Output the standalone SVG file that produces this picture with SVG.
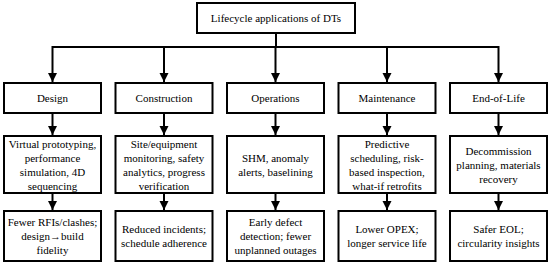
<svg xmlns="http://www.w3.org/2000/svg" width="550" height="263" viewBox="0 0 550 263">
<defs>
<style>
.box{fill:#fff;stroke:#000;stroke-width:2}
.t{font-family:'Liberation Serif','Times New Roman',serif;font-size:11px;fill:#000;text-anchor:middle}
.c{fill:none;stroke:#000;stroke-width:2}
</style>
<marker id="ah" markerUnits="userSpaceOnUse" markerWidth="10" markerHeight="10" viewBox="0 0 10 10" refX="9" refY="5" orient="auto">
<path d="M0,0.5 L9,5 L0,9.5 Z" fill="#000"/>
</marker>
</defs>
<rect width="550" height="263" fill="#fff"/>
<g id="connectors">
<path class="c" d="M276,33 V47"/>
<path class="c" d="M52.5,47 H498.5"/>
<path class="c" d="M52.5,46 V82" marker-end="url(#ah)"/>
<path class="c" d="M164,47 V82" marker-end="url(#ah)"/>
<path class="c" d="M275.5,47 V82" marker-end="url(#ah)"/>
<path class="c" d="M387,47 V82" marker-end="url(#ah)"/>
<path class="c" d="M498.5,46 V82" marker-end="url(#ah)"/>
<path class="c" d="M52.5,113 V135" marker-end="url(#ah)"/>
<path class="c" d="M164,113 V135" marker-end="url(#ah)"/>
<path class="c" d="M275.5,113 V135" marker-end="url(#ah)"/>
<path class="c" d="M387,113 V135" marker-end="url(#ah)"/>
<path class="c" d="M498.5,113 V135" marker-end="url(#ah)"/>
<path class="c" d="M52.5,193 V210" marker-end="url(#ah)"/>
<path class="c" d="M164,193 V210" marker-end="url(#ah)"/>
<path class="c" d="M275.5,193 V210" marker-end="url(#ah)"/>
<path class="c" d="M387,193 V210" marker-end="url(#ah)"/>
<path class="c" d="M498.5,193 V210" marker-end="url(#ah)"/>
</g>
<g id="root">
<rect class="box" x="197" y="3" width="158" height="30"/>
<text class="t" x="276" y="22">Lifecycle applications of DTs</text>
</g>
<g id="design">
<rect class="box" x="4" y="83" width="97" height="30"/>
<text class="t" x="52.5" y="102">Design</text>
</g>
<g id="construction">
<rect class="box" x="115.5" y="83" width="97" height="30"/>
<text class="t" x="164" y="102">Construction</text>
</g>
<g id="operations">
<rect class="box" x="227" y="83" width="97" height="30"/>
<text class="t" x="275.5" y="102">Operations</text>
</g>
<g id="maintenance">
<rect class="box" x="338.5" y="83" width="97" height="30"/>
<text class="t" x="387" y="102">Maintenance</text>
</g>
<g id="eol">
<rect class="box" x="450" y="83" width="97" height="30"/>
<text class="t" x="498.5" y="102">End-of-Life</text>
</g>
<g id="design-apps">
<rect class="box" x="4" y="136" width="97" height="57"/>
<text class="t" x="52.5" y="147.5">Virtual prototyping,</text>
<text class="t" x="52.5" y="161.5">performance</text>
<text class="t" x="52.5" y="175.5">simulation, 4D</text>
<text class="t" x="52.5" y="189.5">sequencing</text>
</g>
<g id="construction-apps">
<rect class="box" x="115.5" y="136" width="97" height="57"/>
<text class="t" x="164" y="147.5">Site/equipment</text>
<text class="t" x="164" y="161.5">monitoring, safety</text>
<text class="t" x="164" y="175.5">analytics, progress</text>
<text class="t" x="164" y="189.5">verification</text>
</g>
<g id="operations-apps">
<rect class="box" x="227" y="136" width="97" height="57"/>
<text class="t" x="275.5" y="161.5">SHM, anomaly</text>
<text class="t" x="275.5" y="175.5">alerts, baselining</text>
</g>
<g id="maintenance-apps">
<rect class="box" x="338.5" y="136" width="97" height="57"/>
<text class="t" x="387" y="147.5">Predictive</text>
<text class="t" x="387" y="161.5">scheduling, risk-</text>
<text class="t" x="387" y="175.5">based inspection,</text>
<text class="t" x="387" y="189.5">what-if retrofits</text>
</g>
<g id="eol-apps">
<rect class="box" x="450" y="136" width="97" height="57"/>
<text class="t" x="498.5" y="154.5">Decommission</text>
<text class="t" x="498.5" y="168.5">planning, materials</text>
<text class="t" x="498.5" y="182.5">recovery</text>
</g>
<g id="design-out">
<rect class="box" x="4" y="211" width="97" height="50"/>
<text class="t" x="52.5" y="226">Fewer RFIs/clashes;</text>
<text class="t" x="52.5" y="240">design→build</text>
<text class="t" x="52.5" y="254">fidelity</text>
</g>
<g id="construction-out">
<rect class="box" x="115.5" y="211" width="97" height="50"/>
<text class="t" x="164" y="233">Reduced incidents;</text>
<text class="t" x="164" y="247">schedule adherence</text>
</g>
<g id="operations-out">
<rect class="box" x="227" y="211" width="97" height="50"/>
<text class="t" x="275.5" y="226">Early defect</text>
<text class="t" x="275.5" y="240">detection; fewer</text>
<text class="t" x="275.5" y="254">unplanned outages</text>
</g>
<g id="maintenance-out">
<rect class="box" x="338.5" y="211" width="97" height="50"/>
<text class="t" x="387" y="233">Lower OPEX;</text>
<text class="t" x="387" y="247">longer service life</text>
</g>
<g id="eol-out">
<rect class="box" x="450" y="211" width="97" height="50"/>
<text class="t" x="498.5" y="233">Safer EOL;</text>
<text class="t" x="498.5" y="247">circularity insights</text>
</g>
</svg>
